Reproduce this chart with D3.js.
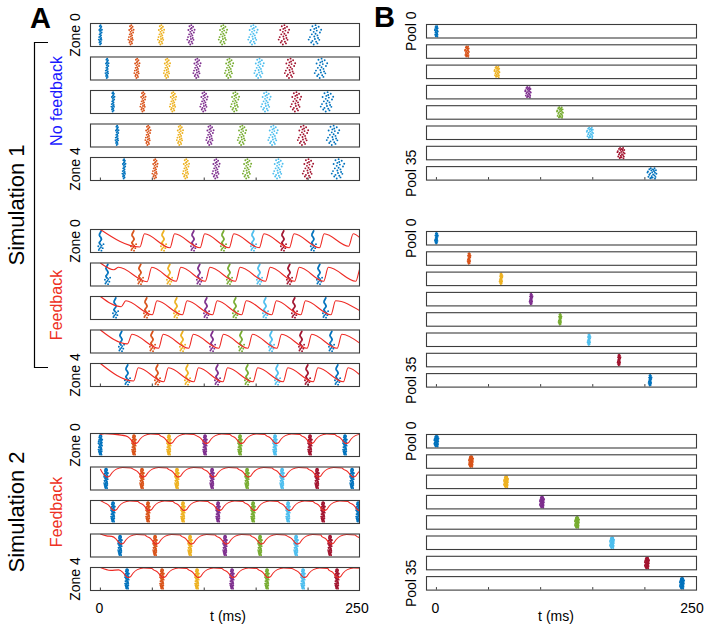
<!DOCTYPE html>
<html><head><meta charset="utf-8">
<script src="https://cdn.jsdelivr.net/npm/d3@7"></script>
<style>body{margin:0;background:#fff}svg{display:block}text{font-family:"Liberation Sans",Arial,Helvetica,sans-serif}</style>
</head><body><svg id="c" width="707" height="625"></svg>
<script>
// ---------------- data ----------------
const timeDomain = [-10, 250];
const tickValues = [0, 50, 100, 150, 200, 250];
const tickLabels = [0, 250];
const burstColors = ["#0072BD","#D95319","#EDB120","#7E2F8E","#77AC30","#4DBEEE","#A2142F"];
const zoneLabels = ["Zone 0", "Zone 4"];
const poolLabels = ["Pool 0", "Pool 35"];
const axisLabel = "t (ms)";

// burst times (ms) per zone, panel A
const sim1NoFbZones = [
  [0, 29.5, 58.4, 87.2, 118, 146.9, 176.7, 206.6],
  [6.4, 35.2, 64.1, 93, 123.9, 152.8, 182.6, 212.4],
  [12.1, 41, 69.9, 99.7, 129.6, 159.4, 188.3, 218.2],
  [16, 45.8, 76.6, 105.5, 136.3, 166.2, 195.1, 224],
  [22.7, 52.6, 82.4, 111.3, 141.2, 171, 199.9, 228.8]
];
const sim1FbZones = [
  [0, 31.4, 60.3, 89.2, 118, 146.9, 175.8, 204.6],
  [6.4, 38.1, 66.1, 94.9, 123.8, 152.7, 181.6, 210.5],
  [14.1, 43.9, 72.8, 101.7, 129.6, 158.5, 186.4, 216.3],
  [19.8, 49.7, 78.6, 107.5, 135.4, 164.3, 193.2, 222.1],
  [25.6, 54.5, 83.4, 112.3, 141.2, 170.1, 199, 227.9]
];
const sim2FbZones = [
  [0, 32.3, 66, 100.7, 134.4, 168.1, 201.8, 235.5],
  [5.4, 40, 73.7, 107.5, 141.2, 174.9, 208.6, 242.3],
  [12.1, 45.8, 79.5, 113.3, 147, 180.7, 214.4, 248.1],
  [18.9, 52.6, 86.3, 120, 153.7, 188.4, 221.1],
  [25.6, 59.3, 93, 126.7, 160.4, 195.1, 227.8]
];

// feedback trace, simulation 1 (fraction of box height from top)
const sim1FbStart = [0.02, 0.02, 0.02, 0.02, 0.02];
const sim1FbRises = [   // [time of rise, level just before rise]
  [[38,0.75],[67,0.78],[96,0.78],[124,0.78],[153,0.78],[182,0.78],[211,0.78],[239,0.72]],
  [[13,0.3],[45,0.8],[73,0.78],[101,0.78],[130,0.78],[159,0.78],[187,0.78],[215,0.78],[246,0.78]],
  [[20,0.45],[50,0.78],[79,0.78],[108,0.78],[136,0.78],[165,0.78],[193,0.78],[222,0.78]],
  [[26,0.6],[56,0.78],[85,0.78],[114,0.78],[142,0.78],[170,0.78],[199,0.78],[228,0.78]],
  [[32,0.75],[61,0.78],[90,0.78],[118,0.78],[147,0.78],[176,0.78],[205,0.78],[234,0.78]]
];
const sim1FbPeak = 0.2;
const sim1FbEnd = [0.37, 0.22, 0.62, 0.58, 0.5];

// feedback trace, simulation 2
const sim2Start = [[[0,0.06],[4,0.03],[12,0.05]], [[0,0.1]], [[0,0.02]], [[0,0.02],[6,0.1]], [[0,0.02],[10,0.14]]];
const sim2Dips = [
  [32.3, 66, 100.7, 134.4, 168.1, 201.8, 235.5],
  [5.4, 40, 73.7, 107.5, 141.2, 174.9, 208.6, 242.3],
  [12.1, 45.8, 79.5, 113.3, 147, 180.7, 214.4, 248.1],
  [18.9, 52.6, 86.3, 120, 153.7, 188.4, 221.1, 255],
  [25.6, 59.3, 93, 126.7, 160.4, 195.1, 227.8, 262]
];
const sim2DipShape = [[-8,0.12],[-4,0.22],[-1,0.38],[1,0.44],[3,0.42],[6,0.25],[10,0.11],[16,0.04],[24,0.06]];

// burst times per pool, panel B
const poolsSim1NoFb = [0, 29.4, 58.2, 88, 118.7, 147.5, 177.3, 207];
const poolsSim1Fb = [0, 31.3, 62, 90.8, 118.6, 146.4, 175.2, 205];
const poolsSim2 = [0, 33.2, 66.8, 101.3, 134.9, 168.5, 202, 235.6];

// spike layouts inside one burst: [time offset (x spread), vertical position 0..1]
const spikeShapeA = [[0.1,0.03],[-0.4,0.08],[0.6,0.11],[0.2,0.17],[-0.1,0.21],[-0.7,0.26],[0.3,0.29],[-0.2,0.35],[0.8,0.38],[0.1,0.44],[-0.5,0.47],[0.4,0.52],[-0.1,0.57],[-0.8,0.6],[0.5,0.64],[0.0,0.69],[0.7,0.73],[-0.4,0.78],[0.2,0.82],[-0.6,0.86],[0.4,0.9],[-0.2,0.95],[1.0,0.25],[-1.0,0.72]];
const spikeShapeB = [[-0.3,0.05],[0.5,0.06],[-0.6,0.14],[0.1,0.15],[0.8,0.23],[-0.2,0.24],[0.4,0.31],[-0.9,0.33],[0.0,0.4],[0.6,0.45],[-0.4,0.5],[0.9,0.53],[0.2,0.6],[-0.6,0.62],[0.5,0.68],[-0.1,0.74],[-0.8,0.8],[0.7,0.81],[0.1,0.87],[-0.4,0.93],[0.6,0.96],[-1.0,0.42],[0.3,0.2],[-0.2,0.88]];
const spikeShapeC = [[0.3,0.02],[0.1,0.07],[-0.1,0.12],[-0.3,0.17],[-0.4,0.22],[-0.2,0.27],[0.1,0.32],[0.3,0.37],[0.4,0.42],[0.2,0.47],[-0.1,0.52],[-0.4,0.57],[-0.3,0.62],[0.0,0.67],[0.5,0.72],[-0.8,0.75],[0.2,0.80],[-0.3,0.86],[0.9,0.84],[-0.6,0.93],[0.4,0.96],[1.2,0.65]];
const spreadNoFb = [1.5, 2.5, 3, 3.5, 4, 4.5, 5, 6];
const spreadPoolsNoFb = [1.5, 2, 2.5, 2.8, 3, 3.2, 3.6, 4.5];

// ---------------- drawing ----------------
const svg = d3.select("#c");
const xA = d3.scaleLinear().domain(timeDomain).range([90, 360]);
const xB = d3.scaleLinear().domain(timeDomain).range([426, 697]);
const boxStroke = "#3c3c3c";

function drawRow(g, x, top, h, bursts, shape, spreadFn) {
  const row = g.append("g");
  row.append("rect").attr("x", x.range()[0]).attr("y", top)
    .attr("width", x.range()[1] - x.range()[0]).attr("height", h).attr("fill", "#fff");
  const clipId = "clip" + Math.round(top) + "_" + Math.round(x.range()[0]);
  svg.append("clipPath").attr("id", clipId).append("rect")
    .attr("x", x.range()[0]).attr("y", top).attr("width", x.range()[1] - x.range()[0]).attr("height", h);
  const inner = row.append("g").attr("clip-path", `url(#${clipId})`);
  bursts.forEach((b, k) => {
    const s = spreadFn(k);
    inner.selectAll(null).data(shape).enter().append("circle")
      .attr("cx", d => x(b + d[0] * s))
      .attr("cy", d => top + 1.5 + d[1] * (h - 3))
      .attr("r", 0.95)
      .attr("fill", burstColors[k % burstColors.length]);
  });
  return {row, inner};
}

function finishRow(row, x, top, h) {
  row.append("rect").attr("x", x.range()[0] + 0.5).attr("y", top + 0.5)
    .attr("width", x.range()[1] - x.range()[0] - 1).attr("height", h - 1)
    .attr("fill", "none").attr("stroke", boxStroke).attr("stroke-width", 1.1);
}

function bottomTicks(g, x, bottom) {
  g.selectAll(null).data(tickValues.slice(0, -1)).enter().append("line")
    .attr("x1", d => x(d)).attr("x2", d => x(d))
    .attr("y1", bottom - 1).attr("y2", bottom - 3.5)
    .attr("stroke", boxStroke).attr("stroke-width", 1);
}

const line = d3.line().x(d => d.x).y(d => d.y).curve(d3.curveMonotoneX);

// Panel A groups
const groupsA = [
  {top: 23, zones: sim1NoFbZones, shape: spikeShapeA, spread: k => spreadNoFb[k]},
  {top: 229, zones: sim1FbZones, shape: spikeShapeC, spread: k => 2.5, trace: "saw"},
  {top: 433, zones: sim2FbZones, shape: spikeShapeA.concat(spikeShapeB), spread: k => 1.8, trace: "dip"}
];
const pitchA = 33.5, hA = 24;
groupsA.forEach(G => {
  const g = svg.append("g");
  G.zones.forEach((bursts, i) => {
    const top = G.top + i * pitchA;
    const {row, inner} = drawRow(g, xA, top, hA, bursts, G.shape, G.spread);
    let pts = null;
    if (G.trace === "saw") {
      pts = [[0, sim1FbStart[i]]];
      sim1FbRises[i].forEach(r => { pts.push([r[0], r[1]]); pts.push([r[0] + 4.5, sim1FbPeak]); });
      pts.push([250, sim1FbEnd[i]]);
    } else if (G.trace === "dip") {
      pts = sim2Start[i].slice();
      const last = pts[pts.length - 1][0];
      sim2Dips[i].forEach(b => sim2DipShape.forEach(s => {
        const t = b + s[0];
        if (t > last && t <= 258) pts.push([t, s[1]]);
      }));
    }
    if (pts) {
      inner.append("path")
        .attr("d", line(pts.map(p => ({x: xA(p[0]), y: top + p[1] * hA}))))
        .attr("fill", "none").attr("stroke", "#ee2a24").attr("stroke-width", 1.1);
    }
    finishRow(row, xA, top, hA);
  });
  const lastTop = G.top + (G.zones.length - 1) * pitchA;
  bottomTicks(g, xA, lastTop + hA);
  [0, G.zones.length - 1].forEach((ri, j) => {
    const cy = G.top + ri * pitchA + hA / 2;
    g.append("text").attr("transform", `translate(80,${cy}) rotate(-90)`)
      .attr("text-anchor", "middle").attr("font-size", 14).attr("fill", "#000").text(zoneLabels[j]);
  });
});

// Panel B groups
const groupsB = [
  {top: 24, pools: poolsSim1NoFb, shape: spikeShapeB, spread: k => spreadPoolsNoFb[k]},
  {top: 231, pools: poolsSim1Fb, shape: spikeShapeA, spread: k => 1.4},
  {top: 434, pools: poolsSim2, shape: spikeShapeA.concat(spikeShapeB), spread: k => 2}
];
const pitchB = 20.3, hB = 14.5;
groupsB.forEach(G => {
  const g = svg.append("g");
  G.pools.forEach((b, i) => {
    const top = G.top + i * pitchB;
    const row = g.append("g");
    row.append("rect").attr("x", xB.range()[0]).attr("y", top)
      .attr("width", xB.range()[1] - xB.range()[0]).attr("height", hB).attr("fill", "#fff");
    row.selectAll(null).data(G.shape).enter().append("circle")
      .attr("cx", d => xB(b + d[0] * G.spread(i)))
      .attr("cy", d => top + 1.5 + d[1] * (hB - 3))
      .attr("r", 0.95)
      .attr("fill", burstColors[i % burstColors.length]);
    finishRow(row, xB, top, hB);
  });
  const lastTop = G.top + (G.pools.length - 1) * pitchB;
  bottomTicks(g, xB, lastTop + hB);
  [0, G.pools.length - 1].forEach((ri, j) => {
    const cy = G.top + ri * pitchB + hB / 2;
    g.append("text").attr("transform", `translate(416,${cy}) rotate(-90)`)
      .attr("text-anchor", "middle").attr("font-size", 14).attr("fill", "#000").text(poolLabels[j]);
  });
});

// axis labels
[[xA, 228], [xB, 556]].forEach(([x, cx], j) => {
  svg.selectAll(null).data(tickLabels).enter().append("text")
    .attr("x", d => (d === 250 && j === 1) ? x(d) - 5 : x(d) - (d === 250 ? 3 : 1))
    .attr("y", 613).attr("text-anchor", "middle").attr("font-size", 14).text(d => d);
  svg.append("text").attr("x", cx).attr("y", 621).attr("text-anchor", "middle")
    .attr("font-size", 14).text(axisLabel);
});

// panel letters
svg.append("text").attr("x", 30).attr("y", 28).attr("font-size", 29).attr("font-weight", "bold").text("A");
svg.append("text").attr("x", 374).attr("y", 27).attr("font-size", 29).attr("font-weight", "bold").text("B");

// group labels
function vtext(x, cy, size, color, txt) {
  svg.append("text").attr("transform", `translate(${x},${cy}) rotate(-90)`)
    .attr("text-anchor", "middle").attr("font-size", size).attr("fill", color).text(txt);
}
vtext(24, 205, 22, "#000", "Simulation 1");
vtext(24, 512, 22, "#000", "Simulation 2");
vtext(62, 101, 16, "#1a1aff", "No feedback");
vtext(62, 305, 16, "#ee3124", "Feedback");
vtext(62, 512, 16, "#ee3124", "Feedback");

// bracket
svg.append("path").attr("d", "M48,42.5 H34.5 V367.5 H48")
  .attr("fill", "none").attr("stroke", "#000").attr("stroke-width", 1.2);
</script></body></html>
